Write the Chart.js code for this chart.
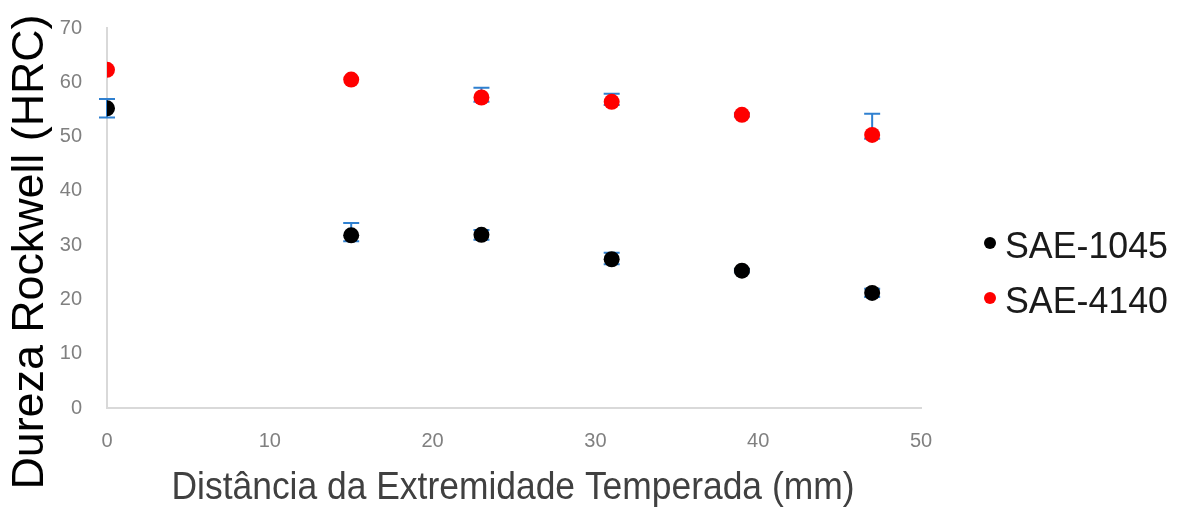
<!DOCTYPE html>
<html><head><meta charset="utf-8">
<script src="https://cdn.jsdelivr.net/npm/chart.js@4"></script>
<style>html,body{margin:0;padding:0;background:#fff;overflow:hidden}</style>
</head><body>
<canvas id="c" width="1179" height="507"></canvas>
<script>
const distances = [0, 15, 23, 31, 39, 47];
const sae1045 = [55.2, 31.8, 31.9, 27.4, 25.3, 21.2];
const sae4140 = [62.3, 60.5, 57.2, 56.4, 54.0, 50.3];
const err1045Plus = [1.7, 2.3, 0.9, 1.2, 0.3, 0.75];
const err1045Minus = [1.7, 1.1, 0.9, 0.9, 0.3, 0.75];
const err4140Plus = [0, 0, 1.8, 1.5, 0.3, 3.9];
const err4140Minus = [0, 0, 0.8, 0.6, 0.3, 0.7];
const seriesNames = ['SAE-1045', 'SAE-4140'];
const xTicks = [0, 10, 20, 30, 40, 50];
const yTicks = [0, 10, 20, 30, 40, 50, 60, 70];
const xTitle = 'Distância da Extremidade Temperada (mm)';
const yTitle = 'Dureza Rockwell (HRC)';

const ARIAL = "'Liberation Sans', Arial, sans-serif";

function toPoints(ys) { return distances.map((x, i) => ({ x: x, y: ys[i] })); }

const errors = [
  { plus: err1045Plus, minus: err1045Minus },
  { plus: err4140Plus, minus: err4140Minus }
];

const errorBarPlugin = {
  id: 'errorBars',
  beforeDatasetsDraw(chart) {
    const ctx = chart.ctx, xs = chart.scales.x, ys = chart.scales.y;
    ctx.save();
    ctx.strokeStyle = '#2f80d0';
    ctx.lineWidth = 2;
    chart.data.datasets.forEach((ds, di) => {
      ds.data.forEach((p, i) => {
        const plus = errors[di].plus[i], minus = errors[di].minus[i];
        if (!plus && !minus) return;
        const px = xs.getPixelForValue(p.x);
        const top = ys.getPixelForValue(p.y + plus);
        const bot = ys.getPixelForValue(p.y - minus);
        ctx.beginPath();
        ctx.moveTo(px, top); ctx.lineTo(px, bot);
        ctx.moveTo(px - 8, top); ctx.lineTo(px + 8, top);
        ctx.moveTo(px - 8, bot); ctx.lineTo(px + 8, bot);
        ctx.stroke();
      });
    });
    ctx.restore();
  }
};

function fitText(ctx, text, cx, baseline, targetW, font, color, rotate) {
  ctx.save();
  ctx.font = font;
  ctx.fillStyle = color;
  const w = ctx.measureText(text).width;
  ctx.translate(cx, baseline);
  if (rotate) ctx.rotate(-Math.PI / 2);
  ctx.scale(targetW / w, 1);
  ctx.textAlign = 'center';
  ctx.textBaseline = 'alphabetic';
  ctx.fillText(text, 0, 0);
  ctx.restore();
}

const decorPlugin = {
  id: 'decor',
  afterDraw(chart) {
    const ctx = chart.ctx;
    fitText(ctx, xTitle, 513, 499, 683, '39px ' + ARIAL, '#404040', false);
    fitText(ctx, yTitle, 43, 252, 475, '44px ' + ARIAL, '#000000', true);
    const ly = [243, 298];
    chart.data.datasets.forEach((ds, i) => {
      ctx.save();
      ctx.fillStyle = ds.backgroundColor;
      ctx.beginPath();
      ctx.arc(990, ly[i], 6, 0, Math.PI * 2);
      ctx.fill();
      ctx.font = '36px ' + ARIAL;
      ctx.fillStyle = '#1a1a1a';
      ctx.textAlign = 'left';
      ctx.textBaseline = 'alphabetic';
      const w = ctx.measureText(ds.label).width;
      ctx.translate(1005, ly[i] + 15);
      ctx.scale(163 / w, 1);
      ctx.fillText(ds.label, 0, 0);
      ctx.restore();
    });
  }
};

new Chart(document.getElementById('c'), {
  type: 'scatter',
  data: {
    datasets: [
      { label: seriesNames[0], data: toPoints(sae1045), backgroundColor: '#000000', borderWidth: 0, pointRadius: 8, pointHoverRadius: 8 },
      { label: seriesNames[1], data: toPoints(sae4140), backgroundColor: '#ff0000', borderWidth: 0, pointRadius: 8, pointHoverRadius: 8 }
    ]
  },
  options: {
    responsive: false,
    animation: false,
    devicePixelRatio: 1,
    layout: { padding: { top: 28, right: 258, left: 0, bottom: 0 } },
    plugins: { legend: { display: false }, tooltip: { enabled: false } },
    scales: {
      x: {
        type: 'linear', min: 0, max: 50,
        grid: { display: false, drawTicks: false },
        border: { display: true, color: '#d9d9d9', width: 2 },
        ticks: { color: '#808080', font: { family: ARIAL, size: 20 }, padding: 21 },
        afterBuildTicks: s => { s.ticks = xTicks.map(v => ({ value: v })); },
        afterFit: s => { s.height = 99; s.paddingLeft = 0; s.paddingRight = 0; }
      },
      y: {
        type: 'linear', min: 0, max: 70,
        grid: { display: false, drawTicks: false },
        border: { display: true, color: '#d9d9d9', width: 2 },
        ticks: { color: '#808080', font: { family: ARIAL, size: 20 }, padding: 25 },
        afterBuildTicks: s => { s.ticks = yTicks.map(v => ({ value: v })); },
        afterFit: s => { s.width = 107; s.paddingTop = 0; s.paddingBottom = 0; }
      }
    }
  },
  plugins: [errorBarPlugin, decorPlugin]
});
</script>
</body></html>
